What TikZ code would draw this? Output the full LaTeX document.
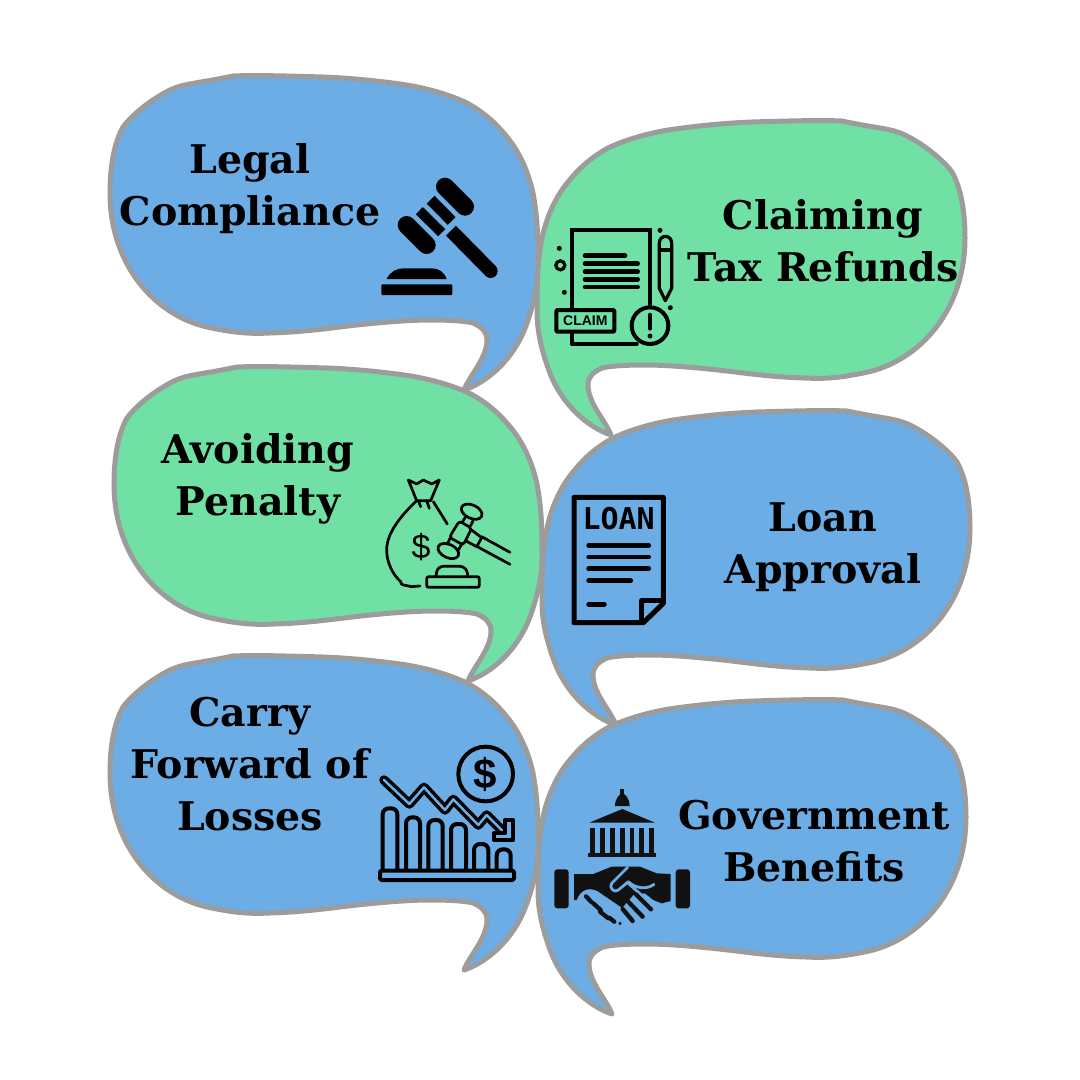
\documentclass[tikz,border=0pt]{standalone}
\usepackage{fontspec}
\setmainfont{DejaVu Serif}
\newfontfamily\claimfont{Liberation Sans Bold}
\newfontfamily\loanfont{DejaVu Sans Mono Bold}
\newfontfamily\dollarfont{Liberation Sans}
\definecolor{bubbleblue}{HTML}{6CADE5}
\definecolor{bubblegreen}{HTML}{70E0A5}
\definecolor{bubbleedge}{HTML}{9C9C9C}
\definecolor{icondark}{HTML}{111111}
\tikzset{
    bubble/.pic={
        \path[pic actions] (233,76) .. controls (195,84) and (185,83) .. (170,90)
            .. controls (150,100) and (132,115) .. (123,127)
            .. controls (113,145) and (110,170) .. (110,193)
            .. controls (110,265) and (155,315) .. (207,327)
            .. controls (235,333) and (250,334) .. (270,333)
            .. controls (305,332) and (330,328) .. (357,325)
            .. controls (385,322) and (410,320) .. (430,320)
            .. controls (450,320) and (465,321) .. (473,323)
            .. controls (482,327) and (487,332) .. (487,340)
            .. controls (487,358) and (470,375) .. (464,390)
            .. controls (488,382) and (515,358) .. (527,323)
            .. controls (534,303) and (538,285) .. (538,267)
            .. controls (538,240) and (538,220) .. (533,193)
            .. controls (528,170) and (518,150) .. (507,137)
            .. controls (495,122) and (483,112) .. (467,103)
            .. controls (450,95) and (430,89) .. (407,85)
            .. controls (380,81) and (350,78) .. (323,77)
            .. controls (290,76) and (255,75) .. (233,76) -- cycle;
    },
    bluebubble/.style={draw=bubbleedge, line width=5pt, line join=round, fill=bubbleblue},
    greenbubble/.style={draw=bubbleedge, line width=5pt, line join=round, fill=bubblegreen},
    label/.style={font=\bfseries\fontsize{39.5}{52}\selectfont, align=center, inner sep=0pt},
    thinicon/.style={draw=black, line width=2.7pt, line cap=round, line join=round},
    midicon/.style={draw=black, line width=4pt, line cap=round, line join=round},
    fatline/.style={draw=black, line width=4.8pt, line cap=round},
}
\begin{document}
\begin{tikzpicture}[x=1pt, y=-1pt]
    \useasboundingbox (0,0) rectangle (1080,1080);

    % Speech bubbles, left column
    \pic[bluebubble] at (0,0) {bubble};
    \pic[greenbubble] at (4,291) {bubble};
    \pic[bluebubble] at (0,580) {bubble};

    % Speech bubbles, right column (mirrored)
    \pic[greenbubble, xscale=-1] at (1075,45) {bubble};
    \pic[bluebubble, xscale=-1] at (1080,335) {bubble};
    \pic[bluebubble, xscale=-1] at (1076,624) {bubble};

    % Labels
    \node[label] (legal) at (250,189) {Legal\\Compliance};
    \node[label] (claiming) at (823,241) {Claiming\\Tax Refunds};
    \node[label] (avoiding) at (258,479) {Avoiding\\Penalty};
    \node[label] (loan) at (823,547) {Loan\\Approval};
    \node[label] (carry) at (250,764) {Carry\\Forward of\\Losses};
    \node[label] (government) at (814,841) {Government\\Benefits};

    % Gavel
    \begin{scope}[shift={(370,170)}, scale=1/3]
        \draw[line width=18pt, line cap=round] (225,50) -- (285,110);
        \draw[line width=18pt, line cap=round] (110,165) -- (170,225);
        \draw[line width=11pt] (182,89) -- (245,153);
        \draw[line width=10pt] (148,122) -- (215,188);
        \draw[line width=14pt] (243,182) -- (362,303);
        \fill (362,303) circle (21);
        \fill (50,327) .. controls (60,305) and (80,295) .. (100,295) -- (185,295)
            .. controls (205,295) and (222,305) .. (230,327) -- cycle;
        \fill[rounded corners=1pt] (34,343) rectangle (247,375);
    \end{scope}

    % Claim form
    \begin{scope}[shift={(370,170)}, scale=1/3]
        \draw[midicon, line join=miter] (605,420) -- (605,180) -- (840,180) -- (840,420);
        \draw[midicon] (605,480) -- (605,522) -- (800,522);
        \foreach \liney/\lineend in {257/765, 281/803, 305/803, 328/803, 351/803}
            \draw[line width=4.6pt, line cap=round] (645,\liney) -- (\lineend,\liney);
        \draw[line width=3.2pt, line join=round] (868,240) -- (868,220)
            .. controls (868,192) and (905,192) .. (905,220) -- (905,355) -- (886,392) -- (868,355) -- cycle;
        \draw[line width=3.2pt] (868,240) -- (905,240);
        \fill (870,181) circle (7.5);
        \fill (568,235) circle (7.5);
        \fill (583,367) circle (7.5);
        \fill (901,413) circle (7.5);
        \draw[line width=3.2pt] (571,286) circle (13.5);
        \draw[midicon, fill=bubblegreen, rounded corners=1pt] (559,420) rectangle (733,485);
        \node[font=\claimfont\fontsize{14}{14}\selectfont, inner sep=0pt] (claimword) at (646,453) {CLAIM};
        \draw[midicon, fill=bubblegreen] (840,467) circle (55);
        \draw[line width=4.6pt, line cap=round] (840,435) -- (840,475);
        \fill (840,498) circle (7.5);
    \end{scope}

    % Money bag
    \begin{scope}[shift={(370,470)}, scale=1/3]
        \draw[thinicon] (115,30) -- (140,42) -- (160,30) -- (185,42) -- (208,30) -- (182,92) -- (140,92) -- cycle;
        \draw[thinicon] (145,92) -- (152,110);
        \draw[thinicon] (170,92) -- (178,115);
        \draw[thinicon] (140,92) .. controls (90,140) and (50,190) .. (50,240)
            .. controls (50,280) and (70,315) .. (92,335)
            .. controls (90,348) and (110,345) .. (125,350) -- (150,348);
        \draw[thinicon] (190,95) -- (232,162);
        \node[font=\dollarfont\fontsize{34}{34}\selectfont, inner sep=0pt] (bagdollar) at (153,230) {\$};
        \draw[thinicon, rounded corners=2pt] (170,320) rectangle (328,352);
    \end{scope}

    % Small gavel
    \begin{scope}[shift={(430,495)}, scale=1/3]
        \draw[thinicon, rotate around={-25:(125,50)}] (125,50) ellipse (33 and 20);
        \draw[thinicon, rotate around={-25:(55,168)}] (55,168) ellipse (33 and 20);
        \draw[thinicon] (105,68) -- (98,80);
        \draw[thinicon] (130,75) -- (122,92);
        \draw[thinicon] (60,130) -- (52,148);
        \draw[thinicon] (95,148) -- (85,165);
        \draw[thinicon, rounded corners=3pt] (88,78) -- (125,100) -- (100,150) -- (58,127) -- cycle;
        \draw[thinicon] (122,103) -- (155,128) -- (140,155) -- (108,138);
        \draw[thinicon] (155,125) -- (240,172);
        \draw[thinicon] (142,155) -- (240,208);
        \draw[thinicon, rounded corners=6pt] (18,245) -- (22,214) -- (108,214) -- (114,245);
    \end{scope}

    % Loan sheet
    \begin{scope}[shift={(370,470)}, scale=1/3]
        \draw[line width=5pt, line join=round] (612,82) -- (880,82) -- (880,400) -- (820,458) -- (612,458) -- cycle;
        \draw[line width=5pt, line join=round] (880,392) -- (815,392) -- (815,458);
        \node[font=\loanfont\fontsize{30}{30}\selectfont, inner sep=0pt] (loanword) at (746,147) {LOAN};
        \foreach \liney/\lineend in {226/836, 261/836, 296/836, 332/782, 403/703}
            \draw[fatline] (656,\liney) -- (\lineend,\liney);
    \end{scope}

    % Falling chart
    \begin{scope}[shift={(370,740)}, scale=1/3]
        \foreach \barleft/\barright/\bartop in {38/82/205, 108/150/232, 175/218/240, 243/288/252, 312/355/312, 380/422/328}
            \draw[midicon, rounded corners=6pt] (\barleft,390) -- (\barleft,\bartop) -- (\barright,\bartop) -- (\barright,390);
        \draw[midicon, fill=bubbleblue, rounded corners=2pt] (30,392) rectangle (432,420);
        \draw[midicon] (347,102) circle (82);
        \node[font=\dollarfont\bfseries\fontsize{42}{42}\selectfont, inner sep=0pt] (chartdollar) at (347,102) {\$};
        \draw[line width=9.5pt, line join=round, line cap=round] (42,120) -- (118,192) -- (162,142) -- (225,210) -- (250,178) -- (325,255) -- (350,225) -- (410,285);
        \draw[line width=2.5pt, draw=bubbleblue, line join=round, line cap=round] (42,120) -- (118,192) -- (162,142) -- (225,210) -- (250,178) -- (325,255) -- (350,225) -- (410,285);
        \draw[midicon, fill=bubbleblue] (405,240) -- (430,240) -- (430,300) -- (372,300) -- (372,280) -- (405,280) -- cycle;
    \end{scope}

    % Government building
    \begin{scope}[shift={(370,740)}, scale=1/3]
        \fill[icondark] (750,148) rectangle (763,170);
        \fill[icondark] (735,198) .. controls (735,175) and (750,160) .. (757,160)
            .. controls (764,160) and (779,175) .. (779,198) -- cycle;
        \fill[icondark] (658,248) -- (757,207) -- (855,248) -- cycle;
        \foreach \colx in {668,697,727,757,786,815,845}
            \fill[icondark] (\colx-7,265) rectangle (\colx+7,340);
        \fill[icondark] (655,338) rectangle (858,351);
    \end{scope}

    % Handshake
    \begin{scope}[shift={(550,855)}, scale=1/3]
        \fill[icondark, rounded corners=3pt] (13,43) rectangle (56,160);
        \fill[icondark, rounded corners=3pt] (377,43) rectangle (420,160);
        \fill[icondark] (72,57) -- (130,57) -- (185,35) -- (270,35) -- (320,55) -- (362,57)
            -- (362,138) -- (335,145) -- (310,135) -- (285,115) -- (250,120) -- (215,160) -- (200,155)
            -- (140,110) -- (100,110) -- (85,135) -- (72,135) -- cycle;
        \draw[draw=bubbleblue, line width=2.8pt, line cap=round, line join=round] (233,37) -- (185,85)
            .. controls (175,100) and (195,115) .. (205,105) -- (235,80)
            .. controls (255,100) and (290,105) .. (312,88);
        \draw[draw=bubbleblue, line width=2.8pt, line cap=round, line join=round] (85,135)
            .. controls (95,110) and (115,100) .. (140,112) -- (210,160);
        \draw[draw=bubbleblue, line width=2.8pt, line cap=round] (235,85) -- (308,150);
        \foreach \fa/\fb/\fc/\fd in {108/124/125/142, 130/145/152/165, 150/170/175/190, 178/188/193/200, 258/118/303/163, 230/135/278/185, 218/162/248/198}
            \draw[icondark, line width=4.3pt, line cap=round] (\fa,\fb) -- (\fc,\fd);
        \fill[icondark] (210,205) circle (5);
    \end{scope}
\end{tikzpicture}
\end{document}
